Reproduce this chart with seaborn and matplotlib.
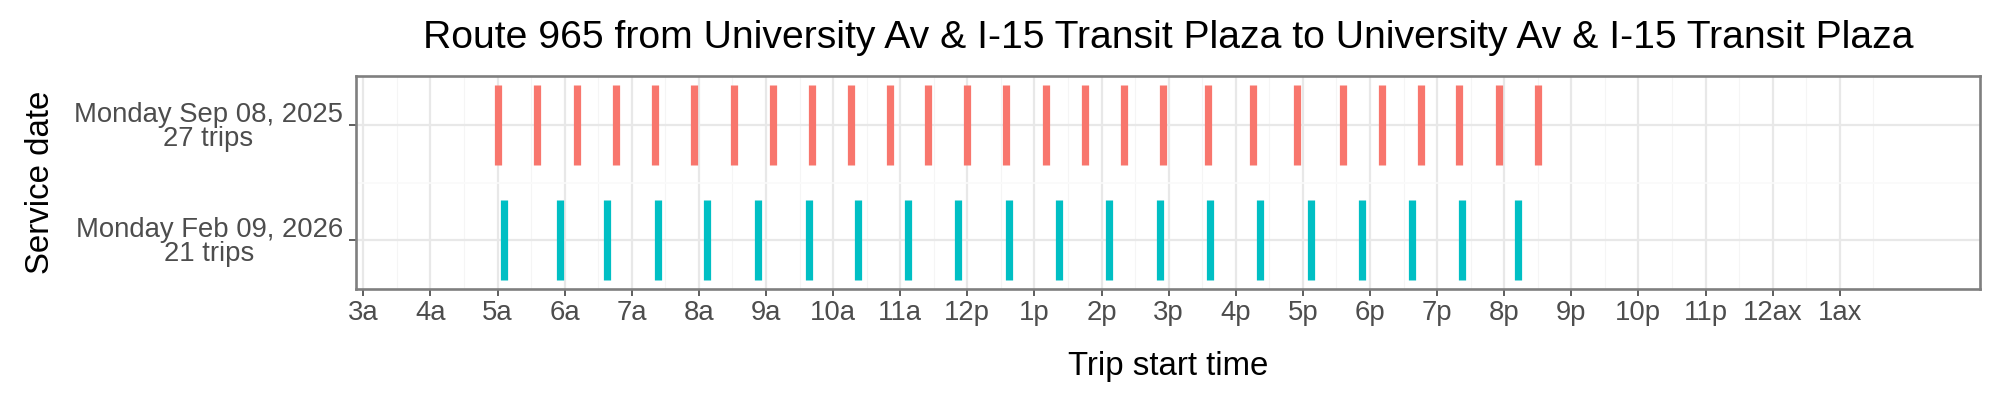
import pandas as pd
import matplotlib
matplotlib.use("Agg")
import matplotlib.pyplot as plt
import seaborn as sns

# service dates (top to bottom) and trip counts shown in the labels
service_dates = ["Monday Sep 08, 2025", "Monday Feb 09, 2026"]

# trip start times
trips_sep = ["5:00", "5:35", "6:11", "6:46", "7:21", "7:56", "8:31", "9:06", "9:41",
             "10:16", "10:51", "11:25", "12:00", "12:35", "13:10", "13:45", "14:20",
             "14:55", "15:35", "16:15", "16:55", "17:36", "18:11", "18:46", "19:20",
             "19:55", "20:30"]
trips_feb = ["5:06", "5:56", "6:38", "7:23", "8:07", "8:53", "9:38", "10:22", "11:07",
             "11:52", "12:37", "13:22", "14:07", "14:52", "15:37", "16:22", "17:07",
             "17:53", "18:38", "19:22", "20:12"]

hour_breaks = list(range(3, 26))
hour_labels = ["3a", "4a", "5a", "6a", "7a", "8a", "9a", "10a", "11a", "12p", "1p", "2p",
               "3p", "4p", "5p", "6p", "7p", "8p", "9p", "10p", "11p", "12ax", "1ax"]


def to_hours(t):
    h, m = t.split(":")
    return int(h) + int(m) / 60


df = pd.concat([
    pd.DataFrame({"date": service_dates[0], "start": [to_hours(t) for t in trips_sep]}),
    pd.DataFrame({"date": service_dates[1], "start": [to_hours(t) for t in trips_feb]}),
])
counts = df.groupby("date", sort=False).size()
ylabels = [f"{d}\n{counts[d]} trips" for d in service_dates]

sns.set_theme(style="white")
plt.rcParams["font.family"] = ["Liberation Sans", "DejaVu Sans"]
palette = dict(zip(service_dates, ["#F8766D", "#00BFC4"]))

fig = plt.figure(figsize=(20, 4), dpi=100)
ax = fig.add_axes([0.178, 0.27675, 0.812, 0.53325])

# grid: minor half-hours, major hours, category lines
for x in hour_breaks:
    ax.axvline(x + 0.5, color="#F5F5F5", lw=0.8, zorder=0)
    ax.axvline(x, color="#E8E8E8", lw=1.6, zorder=0.5)
for i in range(len(service_dates)):
    ax.axhline(i, color="#E8E8E8", lw=1.6, zorder=0.5)
ax.axhline(0.5, color="#FAFAFA", lw=1.2, zorder=0.7)

for i, d in enumerate(service_dates):
    sub = df[df["date"] == d]
    ax.vlines(sub["start"], i - 0.35, i + 0.35, color=palette[d], lw=5.2,
              capstyle="butt", zorder=2)

ax.set_xlim(2.89, 27.09)
ax.set_ylim(len(service_dates) - 1 + 0.43, -0.43)
ax.set_xticks(hour_breaks)
ax.set_xticklabels(hour_labels)
ax.set_yticks(range(len(service_dates)))
ax.set_yticklabels(ylabels, linespacing=0.9, multialignment="center")
ax.tick_params(axis="both", which="major", length=5, width=1.1, color="#333333",
               labelsize=19.8, labelcolor="#4D4D4D", bottom=True, left=True)
ax.tick_params(axis="x", pad=3)
ax.tick_params(axis="y", pad=4.5)

for s in ax.spines.values():
    s.set_color("#7F7F7F")
    s.set_linewidth(1.9)

ax.set_title("Route 965 from University Av & I-15 Transit Plaza to University Av & I-15 Transit Plaza",
             fontsize=28.2, color="black", pad=20)
ax.set_xlabel("Trip start time", fontsize=23.8, color="black", labelpad=18)
ax.set_ylabel("Service date", fontsize=23.8, color="black", labelpad=13)

fig.savefig("out.png", dpi=100)
